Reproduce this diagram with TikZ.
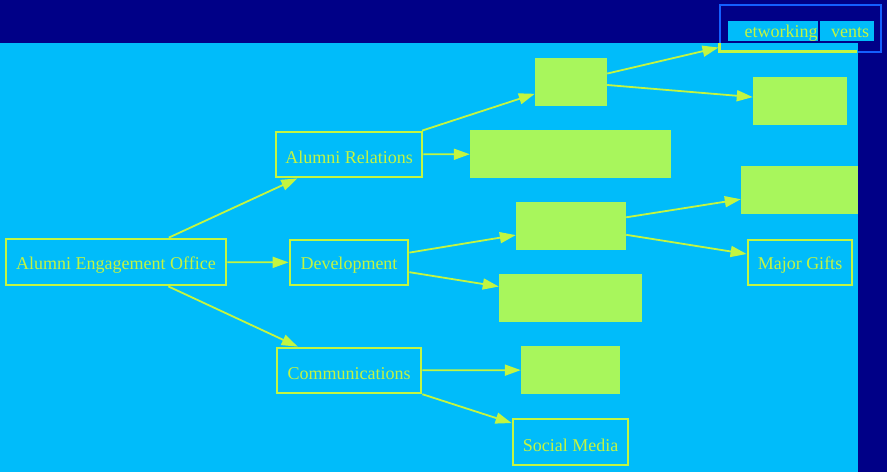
\documentclass[tikz,border=0pt]{standalone}
\usepackage{fontspec}
\setmainfont{Liberation Serif}
\usetikzlibrary{arrows.meta}
\definecolor{navybg}{RGB}{0,0,135}
\definecolor{cyanbg}{RGB}{0,188,250}
\definecolor{lineyg}{RGB}{195,245,65}
\definecolor{fillyg}{RGB}{168,246,92}
\definecolor{netblue}{RGB}{20,95,255}
\newcommand{\lowtext}[1]{\raisebox{-3pt}[\height][\depth]{#1}}
\tikzset{
  outbox/.style={draw=lineyg, line width=2.8pt, fill=none, inner sep=0pt,
    text=lineyg, font=\fontsize{18}{20}\selectfont},
  solidbox/.style={fill=fillyg, draw=none, inner sep=0pt},
  conn/.style={draw=lineyg, line width=1.8pt, -{Triangle[length=16pt,width=11pt]}},
  lbl/.style={text=lineyg, inner sep=0pt, font=\fontsize{18}{20}\selectfont}
}
\begin{document}
\begin{tikzpicture}[x=1pt,y=-1pt]
\useasboundingbox (0,0) rectangle (887,472);
\fill[navybg] (0,0) rectangle (887,472);
% networking box (partly outside the bright region)
\node[draw=netblue, line width=2pt, fill=navybg, minimum width=161pt, minimum height=47pt, inner sep=0pt] (net) at (800,28.5) {};
\fill[cyanbg] (0,43) rectangle (858,472);
\draw[lineyg, line width=2.6pt] (719.5,43) -- (719.5,51.5) -- (857,51.5);
\fill[cyanbg] (728,21) rectangle (818,41);
\fill[cyanbg] (820,21) rectangle (874,41);
\node[lbl] (netA) at (781,33) {etworking};
\node[lbl] (netB) at (850,33) {vents};
% outlined boxes
\node[outbox, minimum width=220pt, minimum height=46pt] (aeo) at (116,262) {\lowtext{Alumni Engagement Office}};
\node[outbox, minimum width=146pt, minimum height=45pt] (ar) at (349,154.5) {\lowtext{Alumni Relations}};
\node[outbox, minimum width=118pt, minimum height=45pt] (dev) at (349,262.5) {\lowtext{Development}};
\node[outbox, minimum width=144pt, minimum height=45pt] (com) at (349,370.5) {\lowtext{Communications}};
\node[outbox, minimum width=115pt, minimum height=46pt] (sm) at (570.5,442) {\lowtext{Social Media}};
\node[outbox, minimum width=104pt, minimum height=45pt] (mg) at (800,262.5) {\lowtext{Major Gifts}};
% filled boxes
\node[solidbox, minimum width=72pt, minimum height=48pt] (ev) at (571,82) {};
\node[solidbox, minimum width=201pt, minimum height=48pt] (b2) at (570.5,154) {};
\node[solidbox, minimum width=110pt, minimum height=48pt] (b3) at (571,226) {};
\node[solidbox, minimum width=143pt, minimum height=48pt] (b4) at (570.5,298) {};
\node[solidbox, minimum width=99pt, minimum height=48pt] (b5) at (570.5,370) {};
\node[solidbox, minimum width=94pt, minimum height=48pt] (b6) at (800,101) {};
\node[solidbox, minimum width=117pt, minimum height=48pt] (b7) at (799.5,190) {};
% connectors
\draw[conn] (aeo) -- (ar);
\draw[conn] (aeo) -- (dev);
\draw[conn] (aeo) -- (com);
\draw[conn] (ar) -- (ev);
\draw[conn] (ar) -- (b2);
\draw[conn] (dev) -- (b3);
\draw[conn] (dev) -- (b4);
\draw[conn] (com) -- (b5);
\draw[conn] (com) -- (sm);
\draw[conn] (ev) -- (net);
\draw[conn] (ev) -- (b6);
\draw[conn] (b3) -- (b7);
\draw[conn] (b3) -- (mg);
\end{tikzpicture}
\end{document}
